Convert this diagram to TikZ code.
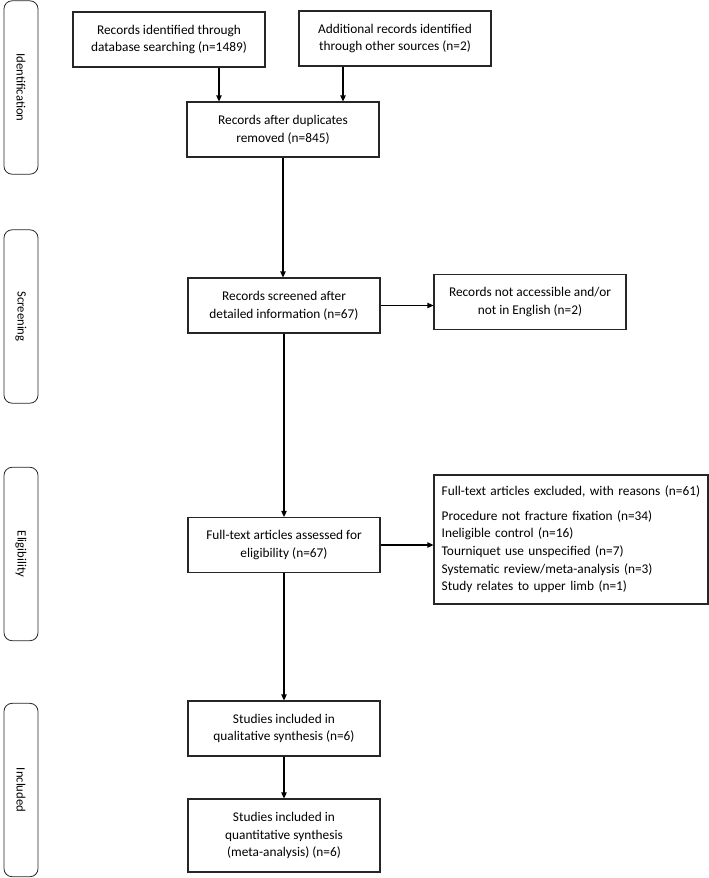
\documentclass[tikz,border=0pt]{standalone}
\usepackage{fontspec}
\setmainfont{Carlito}
\usepackage{tikz}
\usetikzlibrary{positioning, calc, arrows.meta}

\begin{document}
\begin{tikzpicture}[x=0.75pt, y=-0.75pt, font=\fontsize{10}{13.3}\selectfont]
				\tikzstyle{stagebox}=[draw=black!85, line width=0.8pt, minimum width=144pt, minimum height=41.25pt, align=center, fill=white, text=black]
				\tikzstyle{phase}=[draw=black!85, line width=0.6pt, rounded corners=6pt, rotate=-90, minimum width=130pt, minimum height=25.5pt, font=\fontsize{9.5}{11}\selectfont]
				\tikzstyle{flow}=[-{Triangle[length=4.5pt, width=4pt]}, line width=0.9pt, black]

				\useasboundingbox (0,0) rectangle (709,878);

				% phases on the left
				\node (phaseid) at (21,87.5) [phase] {Identification};
				\node (phasescr) at (21,316.5) [phase] {Screening};
				\node (phaseelig) at (21,554) [phase] {Eligibility};
				\node (phaseinc) at (21,790) [phase] {Included};

				% identification
				\node (identified) at (169,39.5) [stagebox] {Records identified through\\database searching (n=1489)};
				\node (additional) at (395,38.5) [stagebox] {Additional records identified\\through other sources (n=2)};
				\node (duplicates) at (283,129.5) [stagebox] {Records after duplicates\\removed (n=845)};

				\draw [flow] ([xshift=37.5pt]identified.south) -- ([xshift=37.5pt]identified.south |- duplicates.north);
				\draw [flow] ([xshift=-39pt]additional.south) -- ([xshift=-39pt]additional.south |- duplicates.north);

				% screening
				\node (screened) at (284,305.5) [stagebox] {Records screened after\\detailed information (n=67)};
				\node (notaccess) at (530,302) [stagebox] {Records not accessible and/or\\not in English (n=2)};

				\draw [flow] (duplicates.south) -- (duplicates.south |- screened.north);
				\draw [flow] (screened.east) -- (screened.east -| notaccess.west);

				% eligibility
				\node (fulltext) at (284,545) [stagebox] {Full-text articles assessed for\\eligibility (n=67)};
				\node (excluded) at (571,539.5) [stagebox, minimum width=205.5pt, minimum height=96.75pt, inner xsep=5.5pt, text width=194pt, align=left] {Full-text articles excluded, with reasons (n=61)\\[5pt]
					Procedure not fracture fixation (n=34)\\
					Ineligible control (n=16)\\
					Tourniquet use unspecified (n=7)\\
					Systematic review/meta-analysis (n=3)\\
					Study relates to upper limb (n=1)};

				\draw [flow] (screened.south) -- (fulltext.north);
				\draw [flow] (fulltext.east) -- (fulltext.east -| excluded.west);

				% included
				\node (qualitative) at (284,728.5) [stagebox] {Studies included in\\qualitative synthesis (n=6)};
				\node (quantitative) at (284,835.5) [stagebox, minimum height=54.75pt] {Studies included in\\quantitative synthesis\\(meta-analysis) (n=6)};

				\draw [flow] (fulltext.south) -- (qualitative.north);
				\draw [flow] (qualitative.south) -- (quantitative.north);

%				\draw [help lines] (0,0) grid (709,878);
\end{tikzpicture}
\end{document}
